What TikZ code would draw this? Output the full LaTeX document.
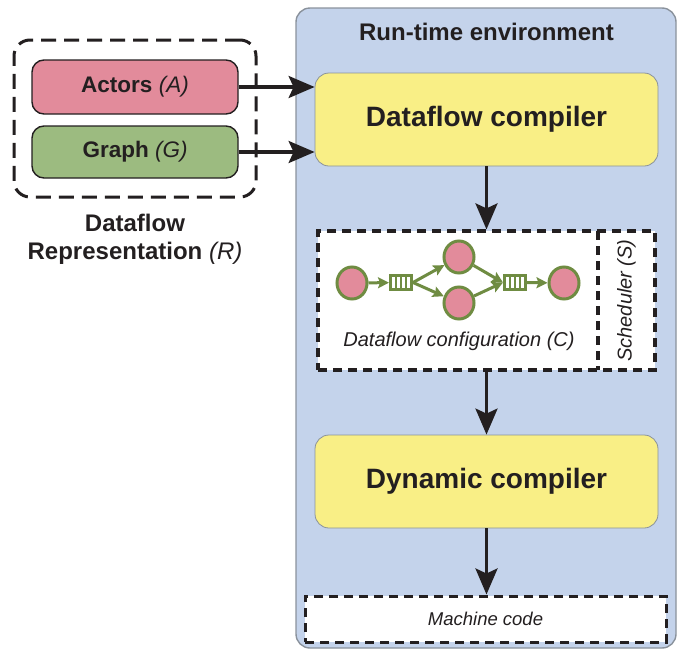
\documentclass[tikz,border=0pt]{standalone}
\usepackage{fontspec}
\setmainfont{Liberation Sans}
\usetikzlibrary{arrows.meta,shapes.geometric}
\definecolor{rtblue}{HTML}{C4D3EB}
\definecolor{rtborder}{HTML}{8A929C}
\definecolor{ylw}{HTML}{F9EF86}
\definecolor{pinkf}{HTML}{E28B9B}
\definecolor{greenf}{HTML}{9CBB80}
\definecolor{gborder}{HTML}{6F8C42}
\definecolor{txt}{HTML}{231F20}
\tikzset{
  bigarrow/.style={line width=3.2pt,draw=txt,-{Stealth[length=26pt,width=22pt,inset=5pt]}},
  compbox/.style={draw=rtborder,line width=0.8pt,fill=ylw,rounded corners=14pt},
  inbox/.style={draw=txt,line width=1.4pt,rounded corners=12pt},
  dashbox/.style={draw=txt,line width=3.2pt,dash pattern=on 9pt off 6pt,fill=white},
  actor/.style={ellipse,draw=gborder,line width=3pt,fill=pinkf,minimum width=30pt,minimum height=32pt,inner sep=0pt},
  garrow/.style={draw=gborder,line width=3pt,-{Stealth[length=11pt,width=11pt,inset=2pt]}},
  queue/.style={draw=gborder,line width=3pt,minimum width=21pt,minimum height=14pt,inner sep=0pt,rectangle},
}
\begin{document}
\begin{tikzpicture}[x=1pt,y=-1pt,text=txt]
\useasboundingbox (0,0) rectangle (680,651);
% run-time environment
\node[draw=rtborder,line width=1.4pt,fill=rtblue,rounded corners=14pt,minimum width=380pt,minimum height=640pt,inner sep=0pt] (rt) at (486,328) {};
\node[font=\bfseries\fontsize{24}{26}\selectfont] (rttitle) at (486.5,32) {Run-time environment};
% dataflow compiler
\node[compbox,minimum width=343pt,minimum height=93pt] (dfc) at (486.5,119.5) {};
\node[font=\bfseries\fontsize{28}{30}\selectfont] at (dfc) {Dataflow compiler};
% configuration box
\node[dashbox,minimum width=337pt,minimum height=139pt,inner sep=0pt] (cfg) at (486.5,300.5) {};
\draw[draw=txt,line width=3.2pt,dash pattern=on 9pt off 6pt] (598,231) coordinate (sdt) -- (598,370) coordinate (sdb);
\node[rotate=90,font=\itshape\fontsize{20}{22}\selectfont] (sched) at (626.5,300.5) {Scheduler (S)};
\node[font=\itshape\fontsize{20}{22}\selectfont] (cfgt) at (459,341) {Dataflow configuration (C)};
% graph
\node[actor] (a1) at (352,283) {};
\node[queue] (q1) at (401,282.5) {};
\draw[gborder,line width=1.8pt] (396,275.5) -- (396,289.5) (401,275.5) -- (401,289.5) (406,275.5) -- (406,289.5);
\node[actor] (a2) at (459,257) {};
\node[actor] (a3) at (459,303) {};
\node[queue] (q2) at (515,282.5) {};
\draw[gborder,line width=1.8pt] (510,275.5) -- (510,289.5) (515,275.5) -- (515,289.5) (520,275.5) -- (520,289.5);
\node[actor] (a4) at (564,283) {};
\draw[garrow] (a1) -- (q1);
\draw[garrow] (q1.east) -- (a2);
\draw[garrow] (q1.east) -- (a3);
\draw[garrow] (a2) -- (q2.west);
\draw[garrow] (a3) -- (q2.west);
\draw[garrow] (q2) -- (a4);
% dynamic compiler
\node[compbox,minimum width=343pt,minimum height=93pt] (dyn) at (486.5,481.5) {};
\node[font=\bfseries\fontsize{28}{30}\selectfont] at (dyn) {Dynamic compiler};
% machine code
\node[dashbox,line width=3pt,minimum width=361pt,minimum height=46pt,inner sep=0pt] (mc) at (485.5,619) {};
\node[font=\itshape\fontsize{18.5}{20}\selectfont] at (mc) {Machine code};
% vertical arrows
\draw[bigarrow] (dfc.south) -- (cfg.north);
\draw[bigarrow] (cfg.south) -- (dyn.north);
\draw[bigarrow] (dyn.south) -- (dyn.south |- mc.north);
% dataflow representation
\node[draw=txt,line width=3pt,dash pattern=on 15pt off 8pt,rounded corners=16pt,minimum width=242pt,minimum height=157pt,inner sep=0pt] (rep) at (135,118.5) {};
\node[inbox,fill=pinkf,minimum width=206pt,minimum height=54pt] (act) at (135,87) {};
\node[font=\fontsize{22.5}{24}\selectfont] at (act) {\textbf{Actors} \textit{(A)}};
\node[inbox,fill=greenf,minimum width=206pt,minimum height=52pt] (gr) at (135,152) {};
\node[font=\fontsize{22.5}{24}\selectfont] at (gr) {\textbf{Graph} \textit{(G)}};
\node[font=\fontsize{24}{28}\selectfont,align=center] (reptxt) at (135,239) {\textbf{Dataflow}\\\textbf{Representation} \textit{(R)}};
\draw[bigarrow] (act.east) -- (act.east -| dfc.west);
\draw[bigarrow] (gr.east) -- (gr.east -| dfc.west);
\end{tikzpicture}
\end{document}
